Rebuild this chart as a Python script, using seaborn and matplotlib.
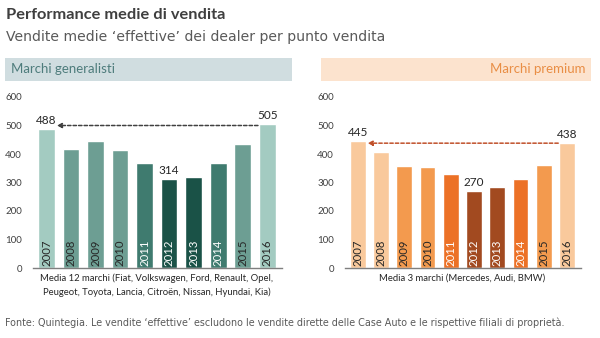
import matplotlib
matplotlib.use("Agg")
import matplotlib.pyplot as plt
import seaborn as sns
import pandas as pd
from matplotlib.patches import Rectangle

sns.set_theme(style="white")
plt.rcParams["font.family"] = ["Lato", "DejaVu Sans"]

years = ["2007", "2008", "2009", "2010", "2011", "2012", "2013", "2014", "2015", "2016"]
generalisti = [488, 418, 447, 414, 370, 314, 319, 370, 434, 505]
premium = [445, 407, 357, 354, 329, 270, 285, 311, 361, 438]

gen_colors = ["#A3CBC1", "#6D9E93", "#6D9E93", "#6D9E93", "#3F7B6F",
              "#1A5247", "#1A5247", "#3F7B6F", "#6D9E93", "#A3CBC1"]
pre_colors = ["#F9C99C", "#F9C99C", "#F39A4E", "#F39A4E", "#EC7126",
              "#A24A20", "#A24A20", "#EC7126", "#F39A4E", "#F9C99C"]
white_text_years = {"2011", "2012", "2013", "2014"}

gen_labels = {"2007": 488, "2012": 314, "2016": 505}
pre_labels = {"2007": 445, "2012": 270, "2016": 438}

gen_note = "Media 12 marchi (Fiat, Volkswagen, Ford, Renault, Opel,\nPeugeot, Toyota, Lancia, Citroën, Nissan, Hyundai, Kia)"
pre_note = "Media 3 marchi (Mercedes, Audi, BMW)"

W, H = 600, 338
fig = plt.figure(figsize=(6, 3.38), dpi=100)
fig.patch.set_facecolor("white")
GEO = ["DejaVu Sans"]


def fx(px):
    return px / W


def fy(py):
    return 1 - py / H


# Title block
fig.text(fx(6), fy(15), "Performance medie di vendita", fontsize=11.8, fontweight="bold",
         color="#3F3F3F", va="center", ha="left")
fig.text(fx(6), fy(37), "Vendite medie \u2018effettive\u2019 dei dealer per punto vendita", fontsize=10.1,
         color="#595959", va="center", ha="left", family=GEO)

# Section headers
fig.patches.append(Rectangle((fx(5), fy(81)), fx(287), 23 / H, transform=fig.transFigure,
                             facecolor="#D0DDE0", edgecolor="none"))
fig.text(fx(11), fy(69), "Marchi generalisti", fontsize=9.5, color="#4E7C7C", va="center", ha="left")
fig.patches.append(Rectangle((fx(321), fy(81)), fx(270), 23 / H, transform=fig.transFigure,
                             facecolor="#FCE3CE", edgecolor="none"))
fig.text(fx(585), fy(69), "Marchi premium", fontsize=9.5, color="#E98E45", va="center", ha="right")


def panel(left_px, right_px, values, colors, labels, arrow_y, arrow_color, note):
    ax = fig.add_axes([fx(left_px), fy(268), fx(right_px - left_px), (268 - 97) / H])
    df = pd.DataFrame({"anno": years, "vendite": values})
    sns.barplot(data=df, x="anno", y="vendite", hue="anno", palette=colors, dodge=False,
                legend=False, width=0.68, saturation=1, ax=ax)
    ax.set_ylim(0, 600)
    ax.set_xlim(-0.55, 9.6)
    ax.set_yticks(range(0, 601, 100))
    ax.tick_params(axis="y", labelsize=7, colors="#404040", length=0, pad=8)
    ax.set_xticks([])
    ax.set_xlabel("")
    ax.set_ylabel("")
    for s in ["top", "right", "left"]:
        ax.spines[s].set_visible(False)
    ax.spines["bottom"].set_color("#7F7F7F")
    ax.spines["bottom"].set_linewidth(1)
    for i, y in enumerate(years):
        c = "white" if y in white_text_years else "#262626"
        ax.text(i, 8, y, rotation=90, ha="center", va="bottom", fontsize=8.2, color=c)
        if y in labels:
            ax.text(i, values[i] + 10, str(labels[y]), ha="center", va="bottom",
                    fontsize=8.5, color="#262626")
    ax.annotate("", xy=(0.42, arrow_y), xytext=(8.62, arrow_y),
                arrowprops=dict(arrowstyle="-|>", color=arrow_color, lw=1.1,
                                linestyle=(0, (2.2, 1.4)), mutation_scale=7,
                                shrinkA=0, shrinkB=0))
    ax.text(4.5, -20, note, ha="center", va="top", fontsize=6.8, color="#262626",
            linespacing=1.5)
    return ax


panel(33, 282, generalisti, gen_colors, gen_labels, 500, "#404040", gen_note)
panel(345, 581, premium, pre_colors, pre_labels, 438, "#C0502A", pre_note)

fig.text(fx(5), fy(323), "Fonte: Quintegia. Le vendite \u2018effettive\u2019 escludono le vendite dirette delle "
         "Case Auto e le rispettive filiali di propriet\u00e0.", fontsize=6.95, color="#595959",
         va="center", ha="left", family=GEO)

fig.savefig("out.png", dpi=100, facecolor="white")
